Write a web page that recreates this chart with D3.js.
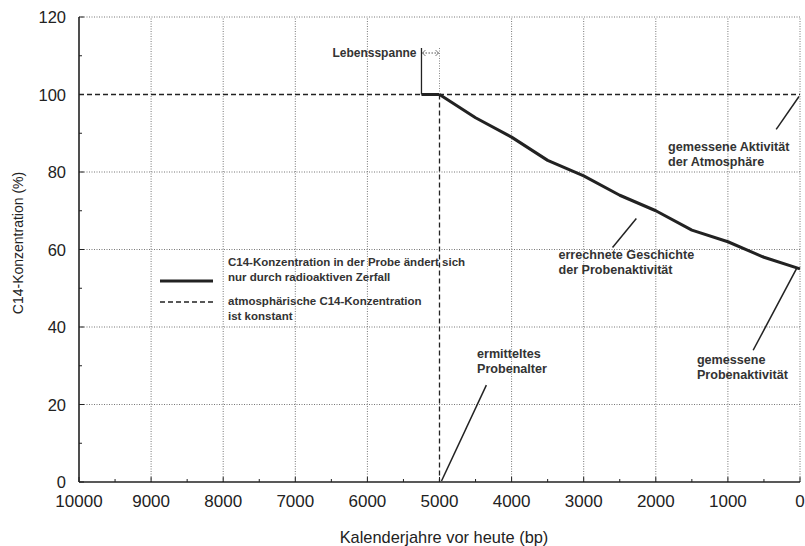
<!DOCTYPE html>
<html>
<head>
<meta charset="utf-8">
<script src="https://cdn.jsdelivr.net/npm/d3@7"></script>
<style>
  body { margin: 0; background: #fff; }
  svg { display: block; font-family: "Liberation Sans", Arial, sans-serif; }
</style>
</head>
<body>
<svg id="chart" width="805" height="546"></svg>
<script>
// Sample activity history (years before present, C14 %)
const sampleYears  = [5000, 4500, 4000, 3500, 3000, 2500, 2000, 1500, 1000, 500, 0];
const sampleValues = [100, 94, 89, 83, 79, 74, 70, 65, 62, 58, 55];
// Constant atmospheric concentration
const atmosYears  = [10000, 0];
const atmosValues = [100, 100];
// Determined sample age and lifespan of the organism
const sampleAge = 5000;
const lifespanStart = 5250;
const lifespanTop = 112;
// Axis ticks
const xTicks = [10000, 9000, 8000, 7000, 6000, 5000, 4000, 3000, 2000, 1000, 0];
const yTicks = [0, 20, 40, 60, 80, 100, 120];
const xMinor = d3.range(0, 10001, 500);
const yMinor = d3.range(0, 121, 10);

const svg = d3.select("#chart");
const m = { left: 79, right: 5, top: 17, bottom: 64 };
const W = 805, H = 546;
const x = d3.scaleLinear().domain([10000, 0]).range([m.left, W - m.right]);
const y = d3.scaleLinear().domain([0, 120]).range([H - m.bottom, m.top]);
const ink = "#222";

// grid
const grid = svg.append("g").attr("stroke", "#777").attr("stroke-width", 1)
  .attr("stroke-dasharray", "1,1.5");
grid.selectAll("line.v").data(xTicks.filter(d => d !== 10000 && d !== sampleAge)).join("line")
  .attr("x1", d => x(d)).attr("x2", d => x(d))
  .attr("y1", y(0)).attr("y2", y(120));
grid.selectAll("line.h").data(yTicks.filter(d => d !== 0 && d !== 100)).join("line")
  .attr("x1", x(10000)).attr("x2", x(0))
  .attr("y1", d => y(d)).attr("y2", d => y(d));

// axes
const xAxis = svg.append("g").attr("transform", `translate(0,${y(0)})`);
xAxis.append("line").attr("x1", x(10000)).attr("x2", x(0)).attr("y1", 0).attr("y2", 0)
  .attr("stroke", ink).attr("stroke-width", 1.6);
xAxis.selectAll("line.t").data(xMinor).join("line")
  .attr("x1", d => x(d)).attr("x2", d => x(d)).attr("y1", 0)
  .attr("y2", d => d % 1000 === 0 ? -5 : -3).attr("stroke", ink).attr("stroke-width", 1);
xAxis.selectAll("text").data(xTicks).join("text")
  .attr("x", d => x(d)).attr("y", 25).attr("text-anchor", "middle")
  .attr("font-size", 17).attr("fill", ink).text(d => d);

const yAxis = svg.append("g").attr("transform", `translate(${x(10000)},0)`);
yAxis.append("line").attr("x1", 0).attr("x2", 0).attr("y1", y(0)).attr("y2", y(120))
  .attr("stroke", ink).attr("stroke-width", 1.6);
yAxis.selectAll("line.t").data(yMinor).join("line")
  .attr("x1", 0).attr("x2", d => d % 20 === 0 ? 5 : 3)
  .attr("y1", d => y(d)).attr("y2", d => y(d)).attr("stroke", ink).attr("stroke-width", 1);
yAxis.selectAll("text").data(yTicks).join("text")
  .attr("x", -13).attr("y", d => y(d) + 6).attr("text-anchor", "end")
  .attr("font-size", 16.5).attr("fill", ink).text(d => d);

svg.append("text").attr("transform", `translate(23,243) rotate(-90)`)
  .attr("text-anchor", "middle").attr("font-size", 14).attr("fill", ink)
  .text("C14-Konzentration (%)");
svg.append("text").attr("x", 444).attr("y", 543).attr("text-anchor", "middle")
  .attr("font-size", 16.4).attr("fill", ink).text("Kalenderjahre vor heute (bp)");

// atmospheric constant (dashed)
const line = d3.line().x((d, i) => x(d[0])).y(d => y(d[1]));
svg.append("path").datum(atmosYears.map((d, i) => [d, atmosValues[i]]))
  .attr("d", line).attr("fill", "none").attr("stroke", ink)
  .attr("stroke-width", 1.3).attr("stroke-dasharray", "5,3");
// determined age (dashed vertical)
svg.append("line").attr("x1", x(sampleAge)).attr("x2", x(sampleAge))
  .attr("y1", y(100)).attr("y2", y(0)).attr("stroke", ink)
  .attr("stroke-width", 1.3).attr("stroke-dasharray", "5,3");

// lifespan marker
svg.append("line").attr("x1", x(lifespanStart)).attr("x2", x(lifespanStart))
  .attr("y1", y(lifespanTop)).attr("y2", y(100)).attr("stroke", ink).attr("stroke-width", 1.3);
svg.append("line").attr("x1", x(lifespanStart)).attr("x2", x(sampleAge))
  .attr("y1", y(100)).attr("y2", y(100)).attr("stroke", ink).attr("stroke-width", 3);
const ly = y(lifespanTop) + 5;
svg.append("line").attr("x1", x(lifespanStart) + 1).attr("x2", x(sampleAge) - 1)
  .attr("y1", ly).attr("y2", ly).attr("stroke", "#555").attr("stroke-width", 1)
  .attr("stroke-dasharray", "1.5,1.5");
svg.append("path").attr("d", `M${x(lifespanStart) + 4},${ly - 3}L${x(lifespanStart) + 1},${ly}L${x(lifespanStart) + 4},${ly + 3}`)
  .attr("fill", "none").attr("stroke", "#555").attr("stroke-width", 0.8);
svg.append("path").attr("d", `M${x(sampleAge) - 4},${ly - 3}L${x(sampleAge) - 1},${ly}L${x(sampleAge) - 4},${ly + 3}`)
  .attr("fill", "none").attr("stroke", "#555").attr("stroke-width", 0.8);
svg.append("line").attr("x1", x(sampleAge)).attr("x2", x(sampleAge))
  .attr("y1", y(lifespanTop)).attr("y2", y(100)).attr("stroke", "#888").attr("stroke-width", 1)
  .attr("stroke-dasharray", "1,1.5");

// sample activity (thick solid)
svg.append("path").datum(sampleYears.map((d, i) => [d, sampleValues[i]]))
  .attr("d", line).attr("fill", "none").attr("stroke", ink)
  .attr("stroke-width", 3).attr("stroke-linejoin", "round");

// annotations
const ann = svg.append("g").attr("font-weight", "bold").attr("fill", "#333");
function label(px, py, lines, size, anchor) {
  const t = ann.append("text").attr("x", px).attr("y", py).attr("font-size", size)
    .attr("text-anchor", anchor || "start");
  lines.forEach((s, i) => t.append("tspan").attr("x", px).attr("dy", i ? 15 : 0).text(s));
}
function leader(x1, y1, x2, y2) {
  svg.append("line").attr("x1", x1).attr("y1", y1).attr("x2", x2).attr("y2", y2)
    .attr("stroke", ink).attr("stroke-width", 1.5);
}
label(x(lifespanStart) - 5, ly + 4, ["Lebensspanne"], 12, "end");

leader(x(0) - 1, y(100) + 2, x(330), y(91));
label(x(1830), y(85.5), ["gemessene Aktivität", "der Atmosphäre"], 12.6);

leader(x(2270), y(68), x(2600), y(60.5));
label(x(3350), y(57.5), ["errechnete Geschichte", "der Probenaktivität"], 12.6);

leader(x(50), y(55), x(650), y(34));
label(x(1430), y(30.5), ["gemessene", "Probenaktivität"], 12.6);

leader(x(sampleAge) + 2, y(0) - 1, x(4350), y(25));
label(x(4480), y(32), ["ermitteltes", "Probenalter"], 12.6);

// legend
svg.append("line").attr("x1", 160).attr("x2", 213).attr("y1", 281).attr("y2", 281)
  .attr("stroke", ink).attr("stroke-width", 3);
svg.append("line").attr("x1", 160).attr("x2", 213).attr("y1", 302).attr("y2", 302)
  .attr("stroke", ink).attr("stroke-width", 1.3).attr("stroke-dasharray", "5,3");
label(228, 266, ["C14-Konzentration in der Probe ändert sich", "nur durch radioaktiven Zerfall"], 11.5);
label(228, 305, ["atmosphärische C14-Konzentration", "ist konstant"], 11.5);
</script>
</body>
</html>
